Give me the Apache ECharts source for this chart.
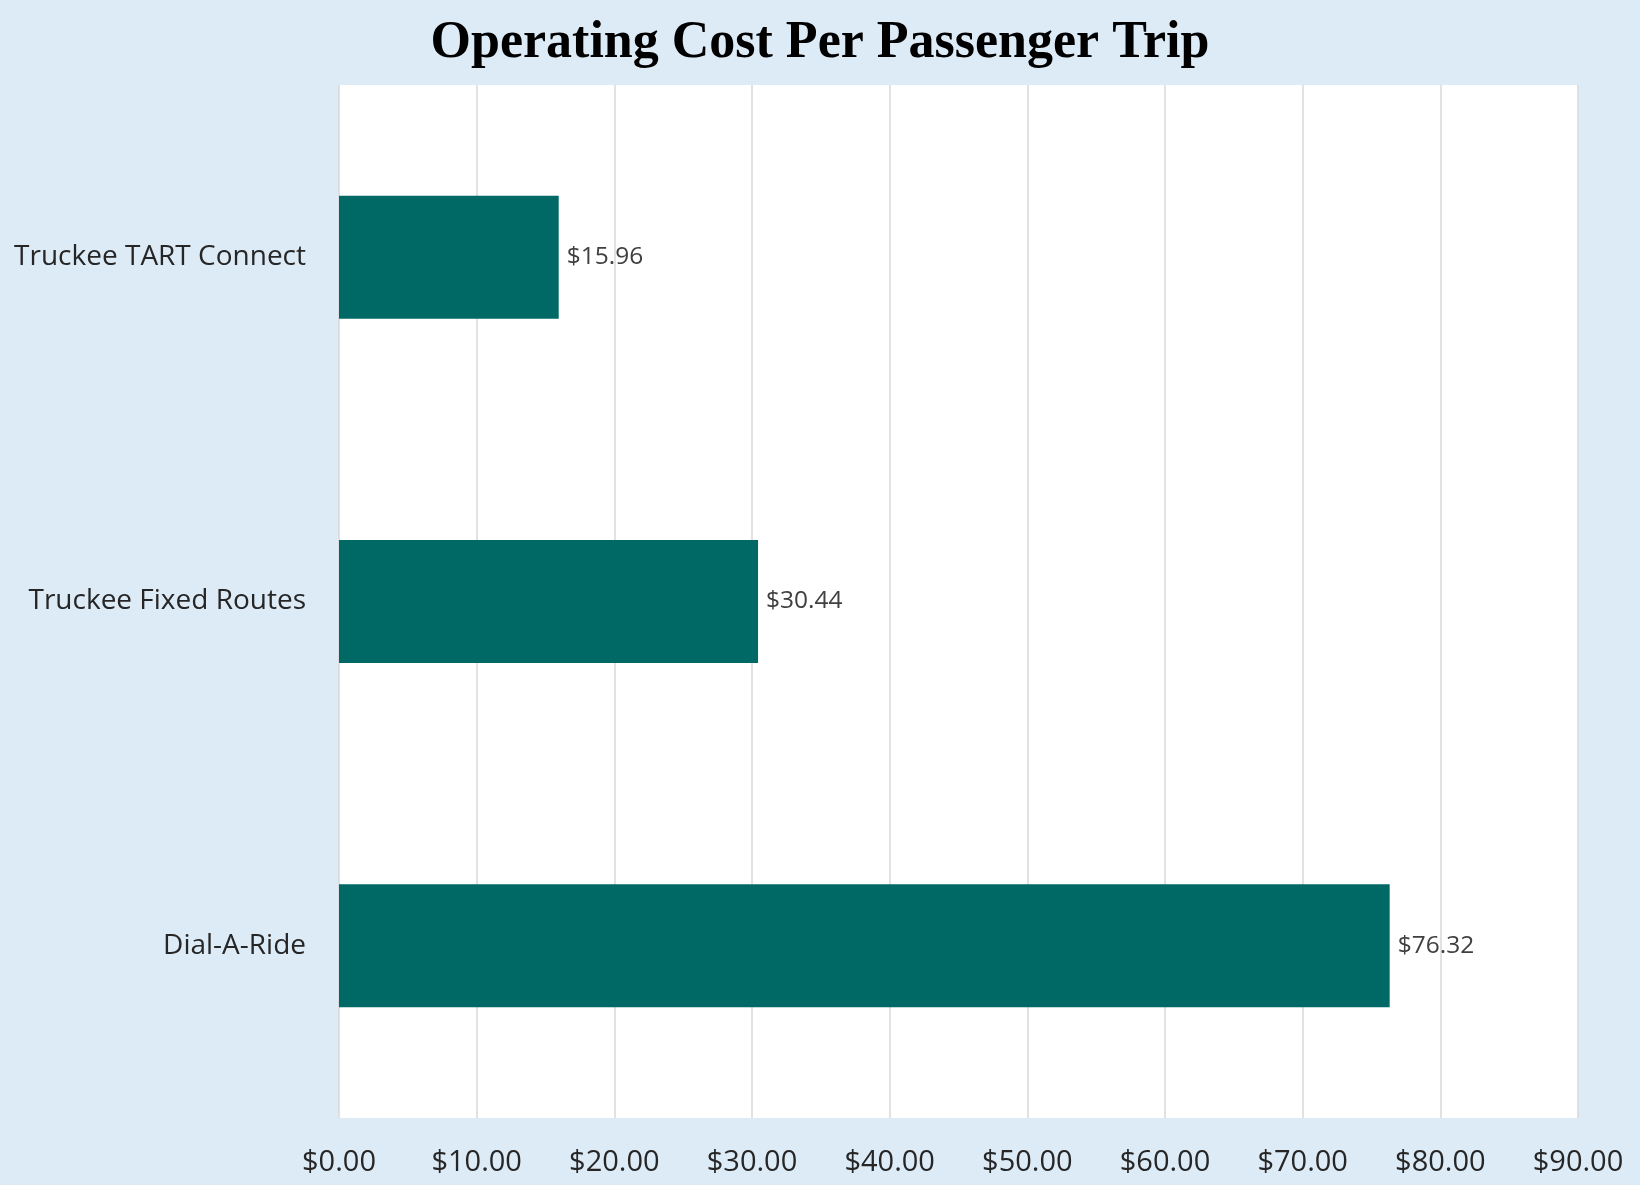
<!DOCTYPE html>
<html>
<head>
<meta charset="utf-8">
<script src="https://cdn.jsdelivr.net/npm/echarts@6/dist/echarts.min.js"></script>
<style>
html,body{margin:0;padding:0;background:#DDEBF7;}
#chart{width:1640px;height:1185px;}
</style>
</head>
<body>
<div id="chart"></div>
<script>
const titleText = 'Operating Cost Per Passenger Trip';
const categories = ['Truckee TART Connect', 'Truckee Fixed Routes', 'Dial-A-Ride'];
const costValues = [15.96, 30.44, 76.32];
const axisMin = 0, axisMax = 90, axisStep = 10;

const chart = echarts.init(document.getElementById('chart'));
const money = v => '$' + Number(v).toFixed(2);
chart.setOption({
  backgroundColor: '#DDEBF7',
  animation: false,
  title: {
    text: titleText,
    left: 'center',
    top: 13,
    textStyle: {fontFamily: 'Liberation Serif', fontWeight: 'bold', fontSize: 52, color: '#000'}
  },
  grid: {left: 339, right: 62, top: 85, bottom: 67, show: true, backgroundColor: '#ffffff', borderWidth: 0},
  xAxis: {
    type: 'value', min: axisMin, max: axisMax, interval: axisStep,
    axisLine: {show: false}, axisTick: {show: false},
    splitLine: {show: true, lineStyle: {color: '#D9D9D9', width: 1.5}},
    axisLabel: {formatter: money, fontFamily: 'Open Sans', fontSize: 29, color: '#262626', margin: 30}
  },
  yAxis: {
    type: 'category', data: categories, inverse: true,
    axisLine: {show: false}, axisTick: {show: false}, splitLine: {show: false},
    axisLabel: {fontFamily: 'Open Sans', fontSize: 28, color: '#262626', margin: 33, padding: [6, 0, 0, 0]}
  },
  series: [{
    type: 'bar', data: costValues, barWidth: 123,
    itemStyle: {color: '#006966'},
    label: {show: true, position: 'right', distance: 8, formatter: p => money(p.value),
      fontFamily: 'Open Sans', fontSize: 24.5, color: '#404040', padding: [7, 0, 0, 0]}
  }]
});
</script>
</body>
</html>
